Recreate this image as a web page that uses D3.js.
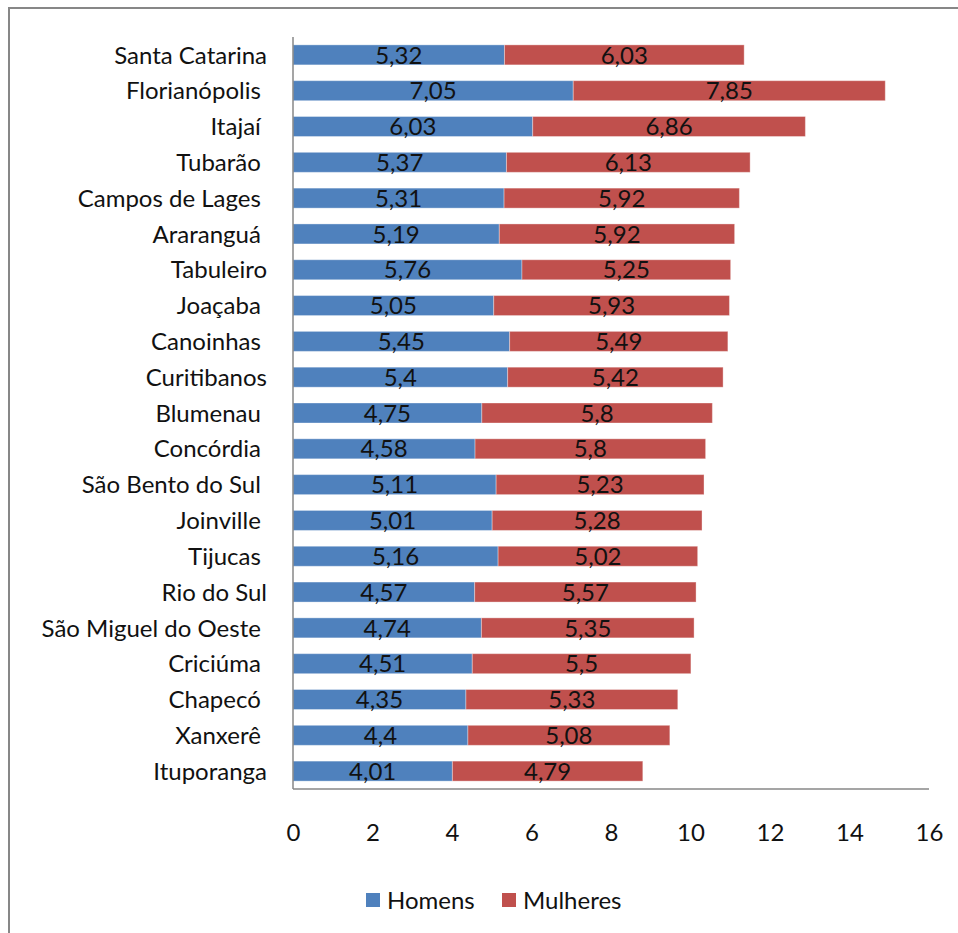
<!DOCTYPE html>
<html>
<head>
<meta charset="utf-8">
<script src="https://cdn.jsdelivr.net/npm/d3@7"></script>
<style>
  html, body { margin: 0; padding: 0; background: #fff; }
  svg { display: block; }
  text { font-family: Lato, "Open Sans", sans-serif; white-space: pre; }
</style>
</head>
<body>
<svg id="chart" width="958" height="933"></svg>
<script>
const categories = [
  "Santa Catarina", "Florianópolis ", "Itajaí ", "Tubarão ", "Campos de Lages ",
  "Araranguá ", "Tabuleiro", "Joaçaba ", "Canoinhas ", "Curitibanos",
  "Blumenau ", "Concórdia ", "São Bento do Sul ", "Joinville ", "Tijucas ",
  "Rio do Sul", "São Miguel do Oeste ", "Criciúma ", "Chapecó ", "Xanxerê ", "Ituporanga"
];
const homens = [5.32, 7.05, 6.03, 5.37, 5.31, 5.19, 5.76, 5.05, 5.45, 5.4, 4.75,
                4.58, 5.11, 5.01, 5.16, 4.57, 4.74, 4.51, 4.35, 4.4, 4.01];
const mulheres = [6.03, 7.85, 6.86, 6.13, 5.92, 5.92, 5.25, 5.93, 5.49, 5.42, 5.8,
                  5.8, 5.23, 5.28, 5.02, 5.57, 5.35, 5.5, 5.33, 5.08, 4.79];
const seriesNames = ["Homens", "Mulheres"];
const seriesColors = ["#4F81BD", "#C0504D"];
const xTicks = [0, 2, 4, 6, 8, 10, 12, 14, 16];

const svg = d3.select("#chart");

// outer chart border
svg.append("rect")
  .attr("x", 9).attr("y", 8).attr("width", 1000).attr("height", 1000)
  .attr("fill", "none").attr("stroke", "#878787").attr("stroke-width", 2);

const plot = { left: 293, right: 929, top: 37, bottom: 789 };

const x = d3.scaleLinear().domain([0, 16]).range([plot.left, plot.right]);
const y = d3.scaleBand().domain(categories).range([plot.top, plot.bottom])
  .paddingInner(0.4415).paddingOuter(0.22);

const rows = categories.map((c, i) => ({ cat: c, h: homens[i], m: mulheres[i] }));
const stack = d3.stack().keys(["h", "m"])(rows);

const fmt = v => String(v).replace(".", ",");

stack.forEach((layer, si) => {
  const g = svg.append("g");
  g.selectAll("rect").data(layer).join("rect")
    .attr("x", d => x(d[0]))
    .attr("y", d => y(d.data.cat))
    .attr("width", d => x(d[1]) - x(d[0]))
    .attr("height", y.bandwidth())
    .attr("fill", seriesColors[si])
    .attr("stroke", "rgba(255,255,255,0.35)")
    .attr("stroke-width", 1);
  g.selectAll("text").data(layer).join("text")
    .attr("x", d => (x(d[0]) + x(d[1])) / 2)
    .attr("y", d => y(d.data.cat) + y.bandwidth() / 2)
    .attr("dy", "0.36em")
    .attr("text-anchor", "middle")
    .attr("font-size", 24)
    .attr("fill", "#111")
    .text(d => fmt(si === 0 ? d.data.h : d.data.m));
});

// axes lines
svg.append("line")
  .attr("x1", plot.left).attr("x2", plot.left)
  .attr("y1", plot.top).attr("y2", plot.bottom)
  .attr("stroke", "#878787").attr("stroke-width", 1.5);
svg.append("line")
  .attr("x1", plot.left).attr("x2", plot.right)
  .attr("y1", plot.bottom).attr("y2", plot.bottom)
  .attr("stroke", "#878787").attr("stroke-width", 1.5);

// category labels
svg.append("g").selectAll("text").data(categories).join("text")
  .attr("x", 267)
  .attr("y", d => y(d) + y.bandwidth() / 2)
  .attr("dy", "0.36em")
  .attr("text-anchor", "end")
  .attr("font-size", 24)
  .attr("fill", "#111")
  .text(d => d);

// x tick labels
const xAxis = d3.axisBottom(x).tickValues(xTicks).tickSize(0).tickPadding(0).tickFormat(d => d);
const xg = svg.append("g").attr("transform", `translate(0,${832})`).call(xAxis);
xg.select(".domain").remove();
xg.selectAll("text")
  .attr("y", 0).attr("dy", "0.36em")
  .attr("font-size", 24).attr("font-family", "Lato, sans-serif").attr("fill", "#111");

// legend
const legend = svg.append("g");
const legendItems = [{ x: 366, tx: 387 }, { x: 502, tx: 523 }];
seriesNames.forEach((name, i) => {
  legend.append("rect")
    .attr("x", legendItems[i].x).attr("y", 893).attr("width", 14).attr("height", 14)
    .attr("fill", seriesColors[i]);
  legend.append("text")
    .attr("x", legendItems[i].tx).attr("y", 900).attr("dy", "0.36em")
    .attr("font-size", 24).attr("fill", "#111")
    .text(name);
});
</script>
</body>
</html>
